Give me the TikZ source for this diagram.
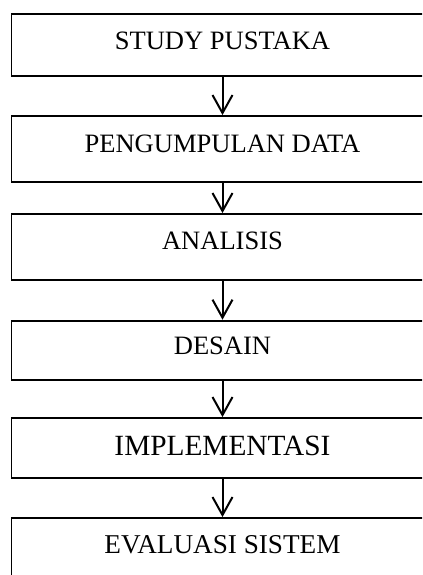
\documentclass[tikz,border=0pt]{standalone}
\usepackage{fontspec}
\setmainfont{Liberation Serif}
\usetikzlibrary{arrows.meta}
\begin{document}
\begin{tikzpicture}[x=0.75pt,y=-0.75pt,
  kotak/.style={draw, line width=1.4pt, inner sep=0pt, minimum width=316.5pt},
  tulisan/.style={inner sep=0pt, font=\fontsize{19.9}{24}\selectfont},
  panah/.style={line width=1.5pt, -{Straight Barb[length=13.5pt,width=15pt]}}]
\useasboundingbox (0,0) rectangle (422,575);
\clip (0,0) rectangle (422,575);
% kotak tahapan (terpotong di sisi kanan dan bawah)
\node[kotak, minimum height=46.5pt] (studi)  at (222.5,45)  {};
\node[kotak, minimum height=49.5pt] (kumpul) at (222.5,149) {};
\node[kotak, minimum height=49.5pt] (analis) at (222.5,247) {};
\node[kotak, minimum height=44.5pt] (desain) at (222.5,350.3) {};
\node[kotak, minimum height=45pt]   (implem) at (222.5,448) {};
\node[kotak, minimum height=46.5pt] (evalu)  at (222.5,549) {};
% tulisan di dalam kotak
\node[tulisan] (tstudi)  at (222.5,40.5)  {STUDY PUSTAKA};
\node[tulisan] (tkumpul) at (222.5,143.5) {PENGUMPULAN DATA};
\node[tulisan] (tanalis) at (222.5,240.5) {ANALISIS};
\node[tulisan] (tdesain) at (222.5,346)   {DESAIN};
\node[tulisan, font=\fontsize{22}{26}\selectfont] (timplem) at (222.5,446.3) {IMPLEMENTASI};
\node[tulisan, font=\fontsize{20.4}{25}\selectfont] (tevalu)  at (222.5,545)   {EVALUASI SISTEM};
% panah antar tahapan
\draw[panah] (studi.south)  -- (kumpul.north);
\draw[panah] (kumpul.south) -- (analis.north);
\draw[panah] (analis.south) -- (desain.north);
\draw[panah] (desain.south) -- (implem.north);
\draw[panah] (implem.south) -- (evalu.north);
\end{tikzpicture}
\end{document}
